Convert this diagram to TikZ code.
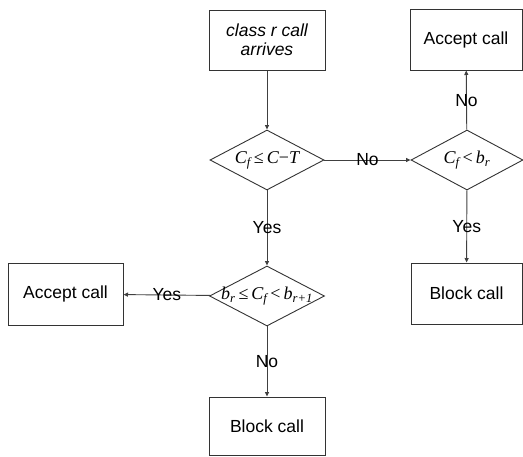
\documentclass[tikz,border=0pt]{standalone}
\usepackage{fontspec}
\setmainfont{Liberation Sans}
\newfontfamily\tms{Liberation Serif}
\usetikzlibrary{shapes.geometric,arrows.meta}
\begin{document}
\begin{tikzpicture}[x=1pt,y=-1pt,
  every node/.style={font=\fontsize{17.5}{19}\selectfont},
  box/.style={draw=black!80,line width=1pt,rectangle,inner sep=0pt,align=center},
  dia/.style={draw=black!80,line width=0.9pt,diamond,inner sep=0pt,minimum width=#1,minimum height=60pt},
  conn/.style={draw=black!75,line width=0.9pt,-{Triangle[length=4.5pt,width=4pt]}},
  lbl/.style={inner sep=0pt},
  mth/.style={font=\tms\fontsize{18}{20}\selectfont\itshape}]
\useasboundingbox (0,0) rectangle (523,456);
\node[box,minimum width=116pt,minimum height=60pt] (start) at (267,40) {\itshape class r call\\\itshape arrives};
\node[box,minimum width=112pt,minimum height=61pt] (acc1) at (466,39.5) {Accept call};
\node[dia=114pt,label={[mth]center:C\textsubscript{f}\,{\upshape≤}\,C{\upshape−}T}] (d1) at (267,160) {};
\node[dia=112pt,label={[mth]center:C\textsubscript{f}\,{\upshape<}\,b\textsubscript{r}}] (d2) at (467,160) {};
\node[dia=115pt,label={[mth]center:b\textsubscript{r}\,{\upshape≤}\,C\textsubscript{f}\,{\upshape<}\,b\textsubscript{r+1}}] (d3) at (267,296) {};
\node[box,minimum width=115pt,minimum height=62pt] (acc2) at (65.5,294) {Accept call};
\node[box,minimum width=111pt,minimum height=61pt] (blk1) at (466.5,293.5) {Block call};
\node[box,minimum width=116pt,minimum height=58pt] (blk2) at (267,426) {Block call};
\draw[conn] (start) -- (d1);
\draw[conn] (d1) -- node[lbl]{No} (d2);
\draw[conn] (d2) -- node[lbl]{No} (acc1);
\draw[conn] (d2) -- node[lbl]{Yes} (blk1);
\draw[conn] (d1) -- node[lbl]{Yes} (d3);
\draw[conn] (d3) -- node[lbl]{Yes} (acc2);
\draw[conn] (d3) -- node[lbl]{No} (blk2);
\end{tikzpicture}
\end{document}
